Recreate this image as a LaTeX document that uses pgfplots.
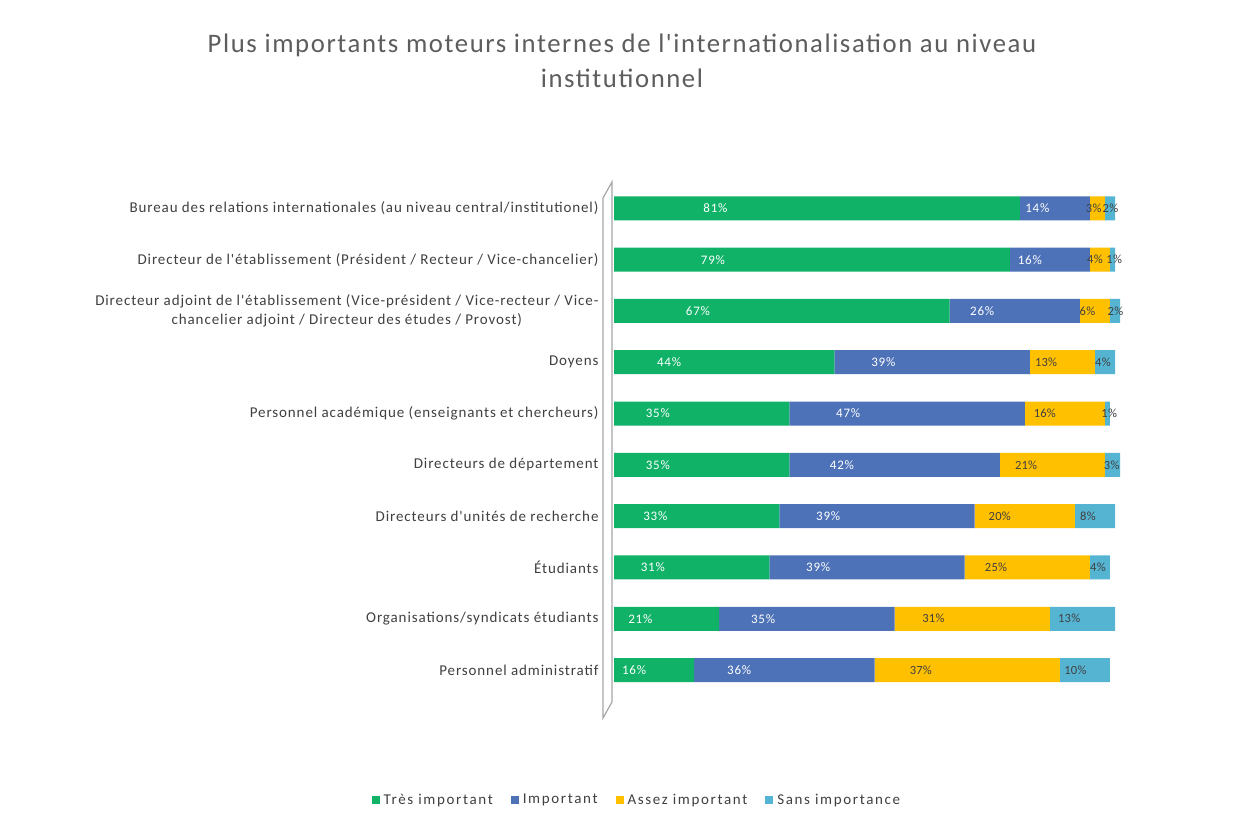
\documentclass[border=0pt]{standalone}
\usepackage{pgfplots}
\pgfplotsset{compat=1.18}
\usepackage{fontspec}
\setmainfont{Carlito}
\newfontfamily\widefont[LetterSpace=6]{Carlito}
\newfontfamily\widerfont[LetterSpace=11]{Carlito}
\newfontfamily\labfont[LetterSpace=2]{Carlito}
\definecolor{cgreen}{RGB}{16,178,104}
\definecolor{cblue}{RGB}{78,114,184}
\definecolor{cyell}{RGB}{255,192,0}
\definecolor{ccyan}{RGB}{86,180,211}
\definecolor{ctext}{RGB}{64,64,64}
\begin{document}
\begin{tikzpicture}[x=1pt,y=1pt]
\path[use as bounding box, fill=white] (0,0) rectangle (1247,818);
\node[align=center, text=ctext!85, font=\widefont\fontsize{26.7}{35}\selectfont] at (622,757) {Plus importants moteurs internes de l'internationalisation au niveau\\institutionnel};
% 3D wall
\draw[gray!70, line width=1.2pt] (603,100) -- (603,620) -- (612,636) -- (612,116) -- cycle;
\begin{axis}[
  at={(614pt,122.3pt)}, anchor=south west,
  scale only axis, width=508.515pt, height=513pt,
  xbar stacked, bar width=24pt,
  xmin=0, xmax=101.5, ymin=-0.5, ymax=9.5,
  clip=false,
  y dir=reverse,
  axis line style={draw=none},
  xtick=\empty,
  ytick={0,...,9},
  major tick length=0pt,
  yticklabels={
    Bureau des relations internationales (au niveau central/institutionel),
    Directeur de l'établissement (Président / Recteur / Vice-chancelier),
    {Directeur adjoint de l'établissement (Vice-président / Vice-recteur / Vice-\\chancelier adjoint / Directeur des études / Provost)},
    Doyens,
    Personnel académique (enseignants et chercheurs),
    Directeurs de département,
    Directeurs d'unités de recherche,
    Étudiants,
    Organisations/syndicats étudiants,
    Personnel administratif},
  yticklabel style={align=center, text=ctext, font=\widefont\fontsize{15}{19}\selectfont, xshift=-12pt},
  point meta=explicit symbolic,
  nodes near coords={\pgfplotspointmeta\%},
  every node near coord/.append style={anchor=center, inner sep=0pt, xshift=-\pgfplotspointmeta*1.2525pt},
  legend style={at={(0.045,-0.203)}, anchor=center, legend columns=4, draw=none, font=\widerfont\fontsize{15}{17}\selectfont, text=ctext,
    /tikz/every odd column/.append style={column sep=2pt},
    /tikz/every even column/.append style={column sep=16pt}},
  legend image code/.code={\fill[#1] (0pt,-4pt) rectangle (8pt,4pt);},
]
\addplot[fill=cgreen, draw=none, nodes near coords style={text=white, font=\widefont\fontsize{13}{15}\selectfont}] coordinates {
(81,0) [81] (79,1) [79] (67,2) [67] (44,3) [44] (35,4) [35]
(35,5) [35] (33,6) [33] (31,7) [31] (21,8) [21] (16,9) [16]};
\addlegendentry{Très important}
\addplot[fill=cblue, draw=none, nodes near coords style={text=white, font=\widefont\fontsize{13}{15}\selectfont}] coordinates {
(14,0) [14] (16,1) [16] (26,2) [26] (39,3) [39] (47,4) [47]
(42,5) [42] (39,6) [39] (39,7) [39] (35,8) [35] (36,9) [36]};
\addlegendentry{Important}
\addplot[fill=cyell, draw=none, nodes near coords style={text=ctext, font=\labfont\fontsize{12.5}{14}\selectfont}] coordinates {
(3,0) [3] (4,1) [4] (6,2) [6] (13,3) [13] (16,4) [16]
(21,5) [21] (20,6) [20] (25,7) [25] (31,8) [31] (37,9) [37]};
\addlegendentry{Assez important}
\addplot[fill=ccyan, draw=none, nodes near coords style={text=ctext, xshift=3pt, font=\labfont\fontsize{12.5}{14}\selectfont}] coordinates {
(2,0) [2] (1,1) [1] (2,2) [2] (4,3) [4] (1,4) [1]
(3,5) [3] (8,6) [8] (4,7) [4] (13,8) [13] (10,9) [10]};
\addlegendentry{Sans importance}
\end{axis}
\end{tikzpicture}
\end{document}
